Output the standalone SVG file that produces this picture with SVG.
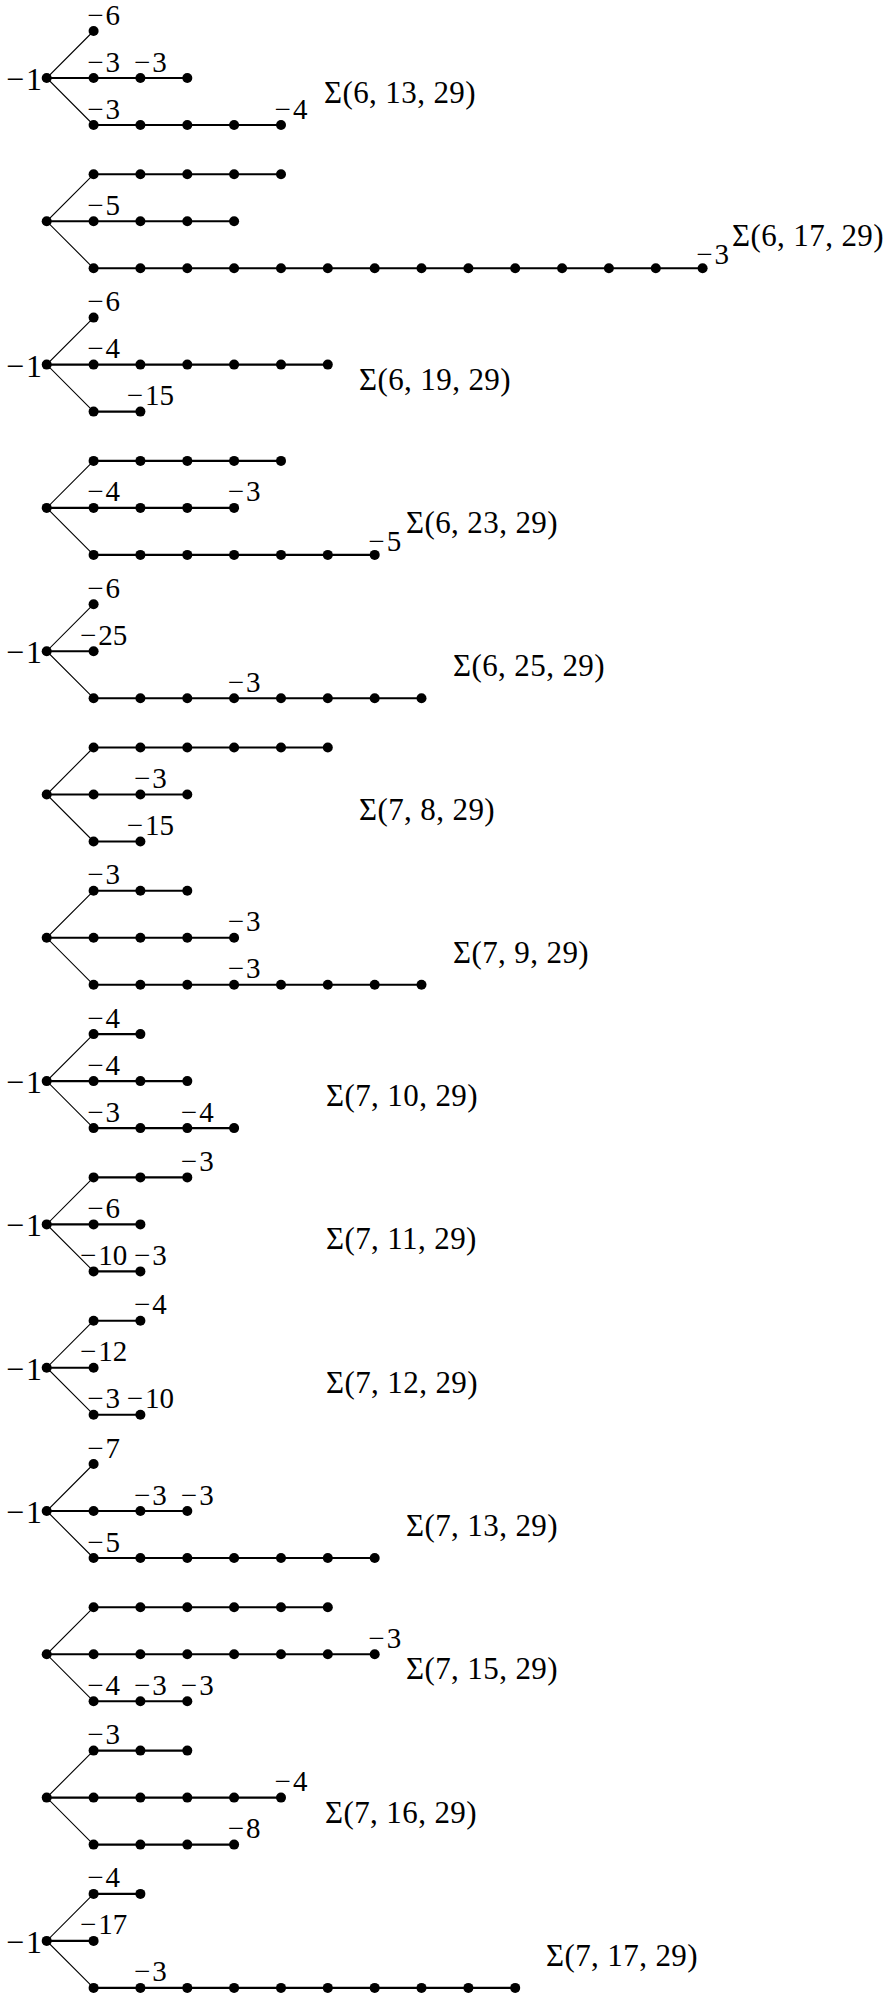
<svg xmlns="http://www.w3.org/2000/svg" xmlns:xlink="http://www.w3.org/1999/xlink" width="885" height="1993" viewBox="0 0 885 1993">
<defs>
<circle id="v" r="5" fill="#000"/>
</defs>
<style>
.e{stroke:#000;stroke-width:2.1;fill:none}
.d{stroke:#000;stroke-width:1.1;fill:none}
.l{font-family:"Liberation Serif",serif;font-size:29px;text-anchor:middle;fill:#000}
.m{font-family:"Liberation Serif",serif;font-size:32px;text-anchor:end;fill:#000}
.s{font-family:"Liberation Serif",serif;font-size:31px;letter-spacing:0.4px;fill:#000}
</style>
<rect width="885" height="1993" fill="#fff"/>
<g id="connectors">
<path class="d" d="M93.6 31L46.7 78L93.6 125M93.6 174.3L46.7 221.3L93.6 268.3M93.6 317.6L46.7 364.6L93.6 411.6M93.6 460.9L46.7 507.9L93.6 554.9M93.6 604.2L46.7 651.2L93.6 698.2M93.6 747.5L46.7 794.5L93.6 841.5M93.6 890.8L46.7 937.8L93.6 984.8M93.6 1034.1L46.7 1081.1L93.6 1128.1M93.6 1177.4L46.7 1224.4L93.6 1271.4M93.6 1320.7L46.7 1367.7L93.6 1414.7M93.6 1464L46.7 1511L93.6 1558M93.6 1607.3L46.7 1654.3L93.6 1701.3M93.6 1750.6L46.7 1797.6L93.6 1844.6M93.6 1893.9L46.7 1940.9L93.6 1987.9"/>
<path class="e" d="M46.7 78H187.3M93.6 125H281"/>
<path class="e" d="M46.7 221.3H234.1M93.6 174.3H281M93.6 268.3H702.6"/>
<path class="e" d="M46.7 364.6H327.8M93.6 411.6H140.4"/>
<path class="e" d="M46.7 507.9H234.1M93.6 460.9H281M93.6 554.9H374.7"/>
<path class="e" d="M46.7 651.2H93.6M93.6 698.2H421.5"/>
<path class="e" d="M46.7 794.5H187.3M93.6 747.5H327.8M93.6 841.5H140.4"/>
<path class="e" d="M46.7 937.8H234.1M93.6 890.8H187.3M93.6 984.8H421.5"/>
<path class="e" d="M46.7 1081.1H187.3M93.6 1034.1H140.4M93.6 1128.1H234.1"/>
<path class="e" d="M46.7 1224.4H140.4M93.6 1177.4H187.3M93.6 1271.4H140.4"/>
<path class="e" d="M46.7 1367.7H93.6M93.6 1320.7H140.4M93.6 1414.7H140.4"/>
<path class="e" d="M46.7 1511H187.3M93.6 1558H374.7"/>
<path class="e" d="M46.7 1654.3H374.7M93.6 1607.3H327.8M93.6 1701.3H187.3"/>
<path class="e" d="M46.7 1797.6H281M93.6 1750.6H187.3M93.6 1844.6H234.1"/>
<path class="e" d="M46.7 1940.9H93.6M93.6 1893.9H140.4M93.6 1987.9H515.2"/>
</g>

<g id="d1">
<g id="d1-c"><use href="#v" x="46.7" y="78"/><text class="m" x="42" y="90">−<tspan dx="2">1</tspan></text></g>
<g id="d1-t1"><use href="#v" x="93.6" y="31"/><text class="l" x="103.6" y="24.5">−<tspan dx="2">6</tspan></text></g>
<g id="d1-m1"><use href="#v" x="93.6" y="78"/><text class="l" x="103.6" y="71.5">−<tspan dx="2">3</tspan></text></g>
<g id="d1-m2"><use href="#v" x="140.4" y="78"/><text class="l" x="150.4" y="71.5">−<tspan dx="2">3</tspan></text></g>
<g id="d1-m3"><use href="#v" x="187.3" y="78"/></g>
<g id="d1-b1"><use href="#v" x="93.6" y="125"/><text class="l" x="103.6" y="118.5">−<tspan dx="2">3</tspan></text></g>
<g id="d1-b2"><use href="#v" x="140.4" y="125"/></g>
<g id="d1-b3"><use href="#v" x="187.3" y="125"/></g>
<g id="d1-b4"><use href="#v" x="234.1" y="125"/></g>
<g id="d1-b5"><use href="#v" x="281" y="125"/><text class="l" x="291" y="118.5">−<tspan dx="2">4</tspan></text></g>
<text class="s" x="324" y="103">Σ(6, 13, 29)</text>
</g>

<g id="d2">
<g id="d2-c"><use href="#v" x="46.7" y="221.3"/></g>
<g id="d2-t1"><use href="#v" x="93.6" y="174.3"/></g>
<g id="d2-t2"><use href="#v" x="140.4" y="174.3"/></g>
<g id="d2-t3"><use href="#v" x="187.3" y="174.3"/></g>
<g id="d2-t4"><use href="#v" x="234.1" y="174.3"/></g>
<g id="d2-t5"><use href="#v" x="281" y="174.3"/></g>
<g id="d2-m1"><use href="#v" x="93.6" y="221.3"/><text class="l" x="103.6" y="214.8">−<tspan dx="2">5</tspan></text></g>
<g id="d2-m2"><use href="#v" x="140.4" y="221.3"/></g>
<g id="d2-m3"><use href="#v" x="187.3" y="221.3"/></g>
<g id="d2-m4"><use href="#v" x="234.1" y="221.3"/></g>
<g id="d2-b1"><use href="#v" x="93.6" y="268.3"/></g>
<g id="d2-b2"><use href="#v" x="140.4" y="268.3"/></g>
<g id="d2-b3"><use href="#v" x="187.3" y="268.3"/></g>
<g id="d2-b4"><use href="#v" x="234.1" y="268.3"/></g>
<g id="d2-b5"><use href="#v" x="281" y="268.3"/></g>
<g id="d2-b6"><use href="#v" x="327.8" y="268.3"/></g>
<g id="d2-b7"><use href="#v" x="374.7" y="268.3"/></g>
<g id="d2-b8"><use href="#v" x="421.5" y="268.3"/></g>
<g id="d2-b9"><use href="#v" x="468.4" y="268.3"/></g>
<g id="d2-b10"><use href="#v" x="515.2" y="268.3"/></g>
<g id="d2-b11"><use href="#v" x="562.1" y="268.3"/></g>
<g id="d2-b12"><use href="#v" x="608.9" y="268.3"/></g>
<g id="d2-b13"><use href="#v" x="655.8" y="268.3"/></g>
<g id="d2-b14"><use href="#v" x="702.6" y="268.3"/><text class="l" x="712.6" y="264">−<tspan dx="2">3</tspan></text></g>
<text class="s" x="732" y="246">Σ(6, 17, 29)</text>
</g>

<g id="d3">
<g id="d3-c"><use href="#v" x="46.7" y="364.6"/><text class="m" x="42" y="376.6">−<tspan dx="2">1</tspan></text></g>
<g id="d3-t1"><use href="#v" x="93.6" y="317.6"/><text class="l" x="103.6" y="311.1">−<tspan dx="2">6</tspan></text></g>
<g id="d3-m1"><use href="#v" x="93.6" y="364.6"/><text class="l" x="103.6" y="358.1">−<tspan dx="2">4</tspan></text></g>
<g id="d3-m2"><use href="#v" x="140.4" y="364.6"/></g>
<g id="d3-m3"><use href="#v" x="187.3" y="364.6"/></g>
<g id="d3-m4"><use href="#v" x="234.1" y="364.6"/></g>
<g id="d3-m5"><use href="#v" x="281" y="364.6"/></g>
<g id="d3-m6"><use href="#v" x="327.8" y="364.6"/></g>
<g id="d3-b1"><use href="#v" x="93.6" y="411.6"/></g>
<g id="d3-b2"><use href="#v" x="140.4" y="411.6"/><text class="l" x="150.4" y="405.1">−<tspan dx="2">15</tspan></text></g>
<text class="s" x="359" y="389.6">Σ(6, 19, 29)</text>
</g>

<g id="d4">
<g id="d4-c"><use href="#v" x="46.7" y="507.9"/></g>
<g id="d4-t1"><use href="#v" x="93.6" y="460.9"/></g>
<g id="d4-t2"><use href="#v" x="140.4" y="460.9"/></g>
<g id="d4-t3"><use href="#v" x="187.3" y="460.9"/></g>
<g id="d4-t4"><use href="#v" x="234.1" y="460.9"/></g>
<g id="d4-t5"><use href="#v" x="281" y="460.9"/></g>
<g id="d4-m1"><use href="#v" x="93.6" y="507.9"/><text class="l" x="103.6" y="501.4">−<tspan dx="2">4</tspan></text></g>
<g id="d4-m2"><use href="#v" x="140.4" y="507.9"/></g>
<g id="d4-m3"><use href="#v" x="187.3" y="507.9"/></g>
<g id="d4-m4"><use href="#v" x="234.1" y="507.9"/><text class="l" x="244.1" y="501.4">−<tspan dx="2">3</tspan></text></g>
<g id="d4-b1"><use href="#v" x="93.6" y="554.9"/></g>
<g id="d4-b2"><use href="#v" x="140.4" y="554.9"/></g>
<g id="d4-b3"><use href="#v" x="187.3" y="554.9"/></g>
<g id="d4-b4"><use href="#v" x="234.1" y="554.9"/></g>
<g id="d4-b5"><use href="#v" x="281" y="554.9"/></g>
<g id="d4-b6"><use href="#v" x="327.8" y="554.9"/></g>
<g id="d4-b7"><use href="#v" x="374.7" y="554.9"/><text class="l" x="384.7" y="550.6">−<tspan dx="2">5</tspan></text></g>
<text class="s" x="406" y="532.9">Σ(6, 23, 29)</text>
</g>

<g id="d5">
<g id="d5-c"><use href="#v" x="46.7" y="651.2"/><text class="m" x="42" y="663.2">−<tspan dx="2">1</tspan></text></g>
<g id="d5-t1"><use href="#v" x="93.6" y="604.2"/><text class="l" x="103.6" y="597.7">−<tspan dx="2">6</tspan></text></g>
<g id="d5-m1"><use href="#v" x="93.6" y="651.2"/><text class="l" x="103.6" y="644.7">−<tspan dx="2">25</tspan></text></g>
<g id="d5-b1"><use href="#v" x="93.6" y="698.2"/></g>
<g id="d5-b2"><use href="#v" x="140.4" y="698.2"/></g>
<g id="d5-b3"><use href="#v" x="187.3" y="698.2"/></g>
<g id="d5-b4"><use href="#v" x="234.1" y="698.2"/><text class="l" x="244.1" y="691.7">−<tspan dx="2">3</tspan></text></g>
<g id="d5-b5"><use href="#v" x="281" y="698.2"/></g>
<g id="d5-b6"><use href="#v" x="327.8" y="698.2"/></g>
<g id="d5-b7"><use href="#v" x="374.7" y="698.2"/></g>
<g id="d5-b8"><use href="#v" x="421.5" y="698.2"/></g>
<text class="s" x="453" y="676.2">Σ(6, 25, 29)</text>
</g>

<g id="d6">
<g id="d6-c"><use href="#v" x="46.7" y="794.5"/></g>
<g id="d6-t1"><use href="#v" x="93.6" y="747.5"/></g>
<g id="d6-t2"><use href="#v" x="140.4" y="747.5"/></g>
<g id="d6-t3"><use href="#v" x="187.3" y="747.5"/></g>
<g id="d6-t4"><use href="#v" x="234.1" y="747.5"/></g>
<g id="d6-t5"><use href="#v" x="281" y="747.5"/></g>
<g id="d6-t6"><use href="#v" x="327.8" y="747.5"/></g>
<g id="d6-m1"><use href="#v" x="93.6" y="794.5"/></g>
<g id="d6-m2"><use href="#v" x="140.4" y="794.5"/><text class="l" x="150.4" y="788">−<tspan dx="2">3</tspan></text></g>
<g id="d6-m3"><use href="#v" x="187.3" y="794.5"/></g>
<g id="d6-b1"><use href="#v" x="93.6" y="841.5"/></g>
<g id="d6-b2"><use href="#v" x="140.4" y="841.5"/><text class="l" x="150.4" y="835">−<tspan dx="2">15</tspan></text></g>
<text class="s" x="359" y="819.5">Σ(7, 8, 29)</text>
</g>

<g id="d7">
<g id="d7-c"><use href="#v" x="46.7" y="937.8"/></g>
<g id="d7-t1"><use href="#v" x="93.6" y="890.8"/><text class="l" x="103.6" y="884.3">−<tspan dx="2">3</tspan></text></g>
<g id="d7-t2"><use href="#v" x="140.4" y="890.8"/></g>
<g id="d7-t3"><use href="#v" x="187.3" y="890.8"/></g>
<g id="d7-m1"><use href="#v" x="93.6" y="937.8"/></g>
<g id="d7-m2"><use href="#v" x="140.4" y="937.8"/></g>
<g id="d7-m3"><use href="#v" x="187.3" y="937.8"/></g>
<g id="d7-m4"><use href="#v" x="234.1" y="937.8"/><text class="l" x="244.1" y="931.3">−<tspan dx="2">3</tspan></text></g>
<g id="d7-b1"><use href="#v" x="93.6" y="984.8"/></g>
<g id="d7-b2"><use href="#v" x="140.4" y="984.8"/></g>
<g id="d7-b3"><use href="#v" x="187.3" y="984.8"/></g>
<g id="d7-b4"><use href="#v" x="234.1" y="984.8"/><text class="l" x="244.1" y="978.3">−<tspan dx="2">3</tspan></text></g>
<g id="d7-b5"><use href="#v" x="281" y="984.8"/></g>
<g id="d7-b6"><use href="#v" x="327.8" y="984.8"/></g>
<g id="d7-b7"><use href="#v" x="374.7" y="984.8"/></g>
<g id="d7-b8"><use href="#v" x="421.5" y="984.8"/></g>
<text class="s" x="453" y="962.8">Σ(7, 9, 29)</text>
</g>

<g id="d8">
<g id="d8-c"><use href="#v" x="46.7" y="1081.1"/><text class="m" x="42" y="1093.1">−<tspan dx="2">1</tspan></text></g>
<g id="d8-t1"><use href="#v" x="93.6" y="1034.1"/><text class="l" x="103.6" y="1027.6">−<tspan dx="2">4</tspan></text></g>
<g id="d8-t2"><use href="#v" x="140.4" y="1034.1"/></g>
<g id="d8-m1"><use href="#v" x="93.6" y="1081.1"/><text class="l" x="103.6" y="1074.6">−<tspan dx="2">4</tspan></text></g>
<g id="d8-m2"><use href="#v" x="140.4" y="1081.1"/></g>
<g id="d8-m3"><use href="#v" x="187.3" y="1081.1"/></g>
<g id="d8-b1"><use href="#v" x="93.6" y="1128.1"/><text class="l" x="103.6" y="1121.6">−<tspan dx="2">3</tspan></text></g>
<g id="d8-b2"><use href="#v" x="140.4" y="1128.1"/></g>
<g id="d8-b3"><use href="#v" x="187.3" y="1128.1"/><text class="l" x="197.3" y="1121.6">−<tspan dx="2">4</tspan></text></g>
<g id="d8-b4"><use href="#v" x="234.1" y="1128.1"/></g>
<text class="s" x="326" y="1106.1">Σ(7, 10, 29)</text>
</g>

<g id="d9">
<g id="d9-c"><use href="#v" x="46.7" y="1224.4"/><text class="m" x="42" y="1236.4">−<tspan dx="2">1</tspan></text></g>
<g id="d9-t1"><use href="#v" x="93.6" y="1177.4"/></g>
<g id="d9-t2"><use href="#v" x="140.4" y="1177.4"/></g>
<g id="d9-t3"><use href="#v" x="187.3" y="1177.4"/><text class="l" x="197.3" y="1170.9">−<tspan dx="2">3</tspan></text></g>
<g id="d9-m1"><use href="#v" x="93.6" y="1224.4"/><text class="l" x="103.6" y="1217.9">−<tspan dx="2">6</tspan></text></g>
<g id="d9-m2"><use href="#v" x="140.4" y="1224.4"/></g>
<g id="d9-b1"><use href="#v" x="93.6" y="1271.4"/><text class="l" x="103.6" y="1264.9">−<tspan dx="2">10</tspan></text></g>
<g id="d9-b2"><use href="#v" x="140.4" y="1271.4"/><text class="l" x="150.4" y="1264.9">−<tspan dx="2">3</tspan></text></g>
<text class="s" x="326" y="1249.4">Σ(7, 11, 29)</text>
</g>

<g id="d10">
<g id="d10-c"><use href="#v" x="46.7" y="1367.7"/><text class="m" x="42" y="1379.7">−<tspan dx="2">1</tspan></text></g>
<g id="d10-t1"><use href="#v" x="93.6" y="1320.7"/></g>
<g id="d10-t2"><use href="#v" x="140.4" y="1320.7"/><text class="l" x="150.4" y="1314.2">−<tspan dx="2">4</tspan></text></g>
<g id="d10-m1"><use href="#v" x="93.6" y="1367.7"/><text class="l" x="103.6" y="1361.2">−<tspan dx="2">12</tspan></text></g>
<g id="d10-b1"><use href="#v" x="93.6" y="1414.7"/><text class="l" x="103.6" y="1408.2">−<tspan dx="2">3</tspan></text></g>
<g id="d10-b2"><use href="#v" x="140.4" y="1414.7"/><text class="l" x="150.4" y="1408.2">−<tspan dx="2">10</tspan></text></g>
<text class="s" x="326" y="1392.7">Σ(7, 12, 29)</text>
</g>

<g id="d11">
<g id="d11-c"><use href="#v" x="46.7" y="1511"/><text class="m" x="42" y="1523">−<tspan dx="2">1</tspan></text></g>
<g id="d11-t1"><use href="#v" x="93.6" y="1464"/><text class="l" x="103.6" y="1457.5">−<tspan dx="2">7</tspan></text></g>
<g id="d11-m1"><use href="#v" x="93.6" y="1511"/></g>
<g id="d11-m2"><use href="#v" x="140.4" y="1511"/><text class="l" x="150.4" y="1504.5">−<tspan dx="2">3</tspan></text></g>
<g id="d11-m3"><use href="#v" x="187.3" y="1511"/><text class="l" x="197.3" y="1504.5">−<tspan dx="2">3</tspan></text></g>
<g id="d11-b1"><use href="#v" x="93.6" y="1558"/><text class="l" x="103.6" y="1551.5">−<tspan dx="2">5</tspan></text></g>
<g id="d11-b2"><use href="#v" x="140.4" y="1558"/></g>
<g id="d11-b3"><use href="#v" x="187.3" y="1558"/></g>
<g id="d11-b4"><use href="#v" x="234.1" y="1558"/></g>
<g id="d11-b5"><use href="#v" x="281" y="1558"/></g>
<g id="d11-b6"><use href="#v" x="327.8" y="1558"/></g>
<g id="d11-b7"><use href="#v" x="374.7" y="1558"/></g>
<text class="s" x="406" y="1536">Σ(7, 13, 29)</text>
</g>

<g id="d12">
<g id="d12-c"><use href="#v" x="46.7" y="1654.3"/></g>
<g id="d12-t1"><use href="#v" x="93.6" y="1607.3"/></g>
<g id="d12-t2"><use href="#v" x="140.4" y="1607.3"/></g>
<g id="d12-t3"><use href="#v" x="187.3" y="1607.3"/></g>
<g id="d12-t4"><use href="#v" x="234.1" y="1607.3"/></g>
<g id="d12-t5"><use href="#v" x="281" y="1607.3"/></g>
<g id="d12-t6"><use href="#v" x="327.8" y="1607.3"/></g>
<g id="d12-m1"><use href="#v" x="93.6" y="1654.3"/></g>
<g id="d12-m2"><use href="#v" x="140.4" y="1654.3"/></g>
<g id="d12-m3"><use href="#v" x="187.3" y="1654.3"/></g>
<g id="d12-m4"><use href="#v" x="234.1" y="1654.3"/></g>
<g id="d12-m5"><use href="#v" x="281" y="1654.3"/></g>
<g id="d12-m6"><use href="#v" x="327.8" y="1654.3"/></g>
<g id="d12-m7"><use href="#v" x="374.7" y="1654.3"/><text class="l" x="384.7" y="1647.8">−<tspan dx="2">3</tspan></text></g>
<g id="d12-b1"><use href="#v" x="93.6" y="1701.3"/><text class="l" x="103.6" y="1694.8">−<tspan dx="2">4</tspan></text></g>
<g id="d12-b2"><use href="#v" x="140.4" y="1701.3"/><text class="l" x="150.4" y="1694.8">−<tspan dx="2">3</tspan></text></g>
<g id="d12-b3"><use href="#v" x="187.3" y="1701.3"/><text class="l" x="197.3" y="1694.8">−<tspan dx="2">3</tspan></text></g>
<text class="s" x="406" y="1679.3">Σ(7, 15, 29)</text>
</g>

<g id="d13">
<g id="d13-c"><use href="#v" x="46.7" y="1797.6"/></g>
<g id="d13-t1"><use href="#v" x="93.6" y="1750.6"/><text class="l" x="103.6" y="1744.1">−<tspan dx="2">3</tspan></text></g>
<g id="d13-t2"><use href="#v" x="140.4" y="1750.6"/></g>
<g id="d13-t3"><use href="#v" x="187.3" y="1750.6"/></g>
<g id="d13-m1"><use href="#v" x="93.6" y="1797.6"/></g>
<g id="d13-m2"><use href="#v" x="140.4" y="1797.6"/></g>
<g id="d13-m3"><use href="#v" x="187.3" y="1797.6"/></g>
<g id="d13-m4"><use href="#v" x="234.1" y="1797.6"/></g>
<g id="d13-m5"><use href="#v" x="281" y="1797.6"/><text class="l" x="291" y="1791.1">−<tspan dx="2">4</tspan></text></g>
<g id="d13-b1"><use href="#v" x="93.6" y="1844.6"/></g>
<g id="d13-b2"><use href="#v" x="140.4" y="1844.6"/></g>
<g id="d13-b3"><use href="#v" x="187.3" y="1844.6"/></g>
<g id="d13-b4"><use href="#v" x="234.1" y="1844.6"/><text class="l" x="244.1" y="1838.1">−<tspan dx="2">8</tspan></text></g>
<text class="s" x="325" y="1822.6">Σ(7, 16, 29)</text>
</g>

<g id="d14">
<g id="d14-c"><use href="#v" x="46.7" y="1940.9"/><text class="m" x="42" y="1952.9">−<tspan dx="2">1</tspan></text></g>
<g id="d14-t1"><use href="#v" x="93.6" y="1893.9"/><text class="l" x="103.6" y="1887.4">−<tspan dx="2">4</tspan></text></g>
<g id="d14-t2"><use href="#v" x="140.4" y="1893.9"/></g>
<g id="d14-m1"><use href="#v" x="93.6" y="1940.9"/><text class="l" x="103.6" y="1934.4">−<tspan dx="2">17</tspan></text></g>
<g id="d14-b1"><use href="#v" x="93.6" y="1987.9"/></g>
<g id="d14-b2"><use href="#v" x="140.4" y="1987.9"/><text class="l" x="150.4" y="1981.4">−<tspan dx="2">3</tspan></text></g>
<g id="d14-b3"><use href="#v" x="187.3" y="1987.9"/></g>
<g id="d14-b4"><use href="#v" x="234.1" y="1987.9"/></g>
<g id="d14-b5"><use href="#v" x="281" y="1987.9"/></g>
<g id="d14-b6"><use href="#v" x="327.8" y="1987.9"/></g>
<g id="d14-b7"><use href="#v" x="374.7" y="1987.9"/></g>
<g id="d14-b8"><use href="#v" x="421.5" y="1987.9"/></g>
<g id="d14-b9"><use href="#v" x="468.4" y="1987.9"/></g>
<g id="d14-b10"><use href="#v" x="515.2" y="1987.9"/></g>
<text class="s" x="546" y="1965.9">Σ(7, 17, 29)</text>
</g>
</svg>
